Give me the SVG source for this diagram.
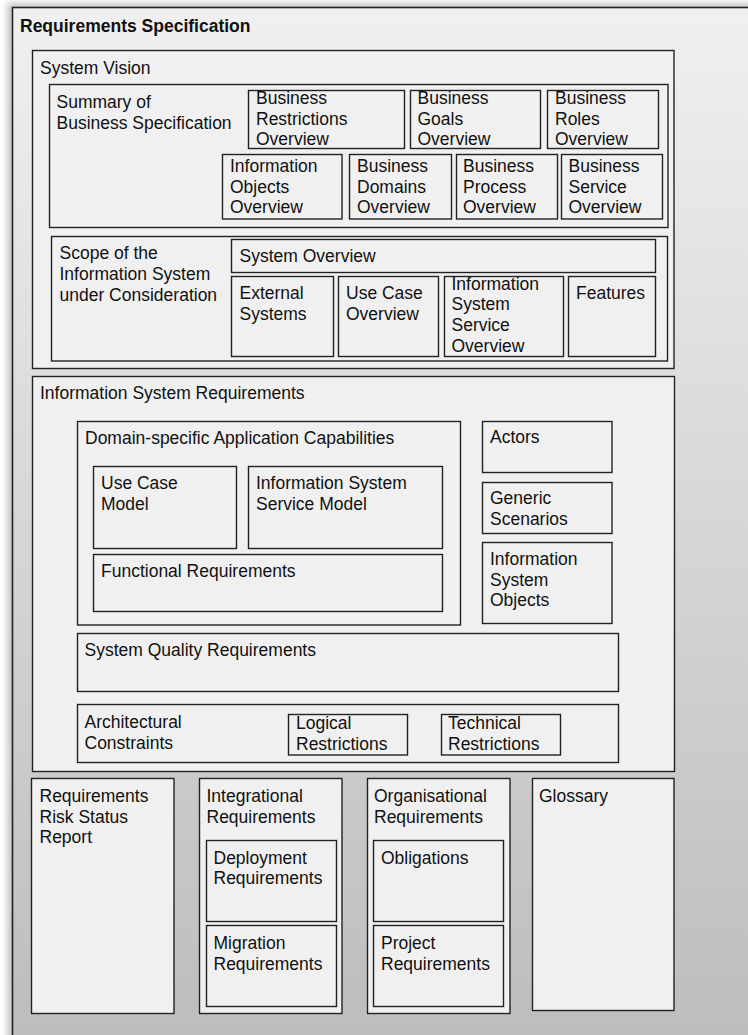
<svg xmlns="http://www.w3.org/2000/svg" width="748" height="1035" viewBox="0 0 748 1035">
  <defs>
    <linearGradient id="frameFill" x1="0" y1="0" x2="0" y2="1">
      <stop offset="0" stop-color="#f0f0f0"/>
      <stop offset="1" stop-color="#bcbcbc"/>
    </linearGradient>
    <filter id="soft" x="-5%" y="-5%" width="110%" height="110%">
      <feGaussianBlur stdDeviation="3"/>
    </filter>
    <style>
      .box { fill: #f0f0f0; stroke: #222; stroke-width: 1.4; }
      .frame { fill: url(#frameFill); stroke: #222; stroke-width: 1.6; }
      .t { font-family: "Liberation Sans", Arial, Helvetica, sans-serif; font-size: 17.5px; fill: #111; }
      .tb { font-weight: bold; }
    </style>
  </defs>

  <!-- outer document frame -->
  <g id="requirements-specification">
    <rect x="7" y="3" width="760" height="1050" fill="#000" opacity="0.22" filter="url(#soft)"/>
    <rect class="frame" x="12.5" y="7.5" width="760" height="1050"/>
    <text class="t tb" x="20" y="31.5">Requirements Specification</text>
  </g>

  <!-- System Vision -->
  <g id="system-vision">
    <rect class="box" x="32.5" y="50.5" width="641.5" height="318"/>
    <text class="t" x="40" y="74">System Vision</text>
  </g>

  <g id="summary-business-spec">
    <rect class="box" x="49.5" y="84.5" width="618.5" height="143"/>
    <text class="t" x="56.5"><tspan x="56.5" y="107.5">Summary of</tspan><tspan x="56.5" y="128.5">Business Specification</tspan></text>
  </g>
  <g id="business-restrictions-overview">
    <rect class="box" x="248.5" y="90.5" width="156" height="58"/>
    <text class="t"><tspan x="256" y="103.5">Business</tspan><tspan x="256" y="124.5">Restrictions</tspan><tspan x="256" y="145">Overview</tspan></text>
  </g>
  <g id="business-goals-overview">
    <rect class="box" x="410.5" y="90.5" width="130" height="58"/>
    <text class="t"><tspan x="417.5" y="103.5">Business</tspan><tspan x="417.5" y="124.5">Goals</tspan><tspan x="417.5" y="145">Overview</tspan></text>
  </g>
  <g id="business-roles-overview">
    <rect class="box" x="547.5" y="90.5" width="111" height="58"/>
    <text class="t"><tspan x="555" y="103.5">Business</tspan><tspan x="555" y="124.5">Roles</tspan><tspan x="555" y="145">Overview</tspan></text>
  </g>
  <g id="information-objects-overview">
    <rect class="box" x="222.5" y="154.5" width="119.5" height="64.5"/>
    <text class="t"><tspan x="230" y="171.5">Information</tspan><tspan x="230" y="192.5">Objects</tspan><tspan x="230" y="212.5">Overview</tspan></text>
  </g>
  <g id="business-domains-overview">
    <rect class="box" x="349.5" y="154.5" width="102" height="64.5"/>
    <text class="t"><tspan x="357" y="171.5">Business</tspan><tspan x="357" y="192.5">Domains</tspan><tspan x="357" y="212.5">Overview</tspan></text>
  </g>
  <g id="business-process-overview">
    <rect class="box" x="456.5" y="154.5" width="101" height="64.5"/>
    <text class="t"><tspan x="463" y="171.5">Business</tspan><tspan x="463" y="192.5">Process</tspan><tspan x="463" y="212.5">Overview</tspan></text>
  </g>
  <g id="business-service-overview">
    <rect class="box" x="561.5" y="154.5" width="101" height="64.5"/>
    <text class="t"><tspan x="568.5" y="171.5">Business</tspan><tspan x="568.5" y="192.5">Service</tspan><tspan x="568.5" y="212.5">Overview</tspan></text>
  </g>

  <g id="scope-information-system">
    <rect class="box" x="51.5" y="236.5" width="616" height="124.5"/>
    <text class="t"><tspan x="59.5" y="258.5">Scope of the</tspan><tspan x="59.5" y="280">Information System</tspan><tspan x="59.5" y="300.5">under Consideration</tspan></text>
  </g>
  <g id="system-overview">
    <rect class="box" x="231.5" y="239.5" width="424" height="33"/>
    <text class="t" x="239.5" y="261.5">System Overview</text>
  </g>
  <g id="external-systems">
    <rect class="box" x="231.5" y="276.5" width="102" height="80"/>
    <text class="t"><tspan x="239.5" y="298.5">External</tspan><tspan x="239.5" y="319.5">Systems</tspan></text>
  </g>
  <g id="use-case-overview">
    <rect class="box" x="338.5" y="276.5" width="100" height="80"/>
    <text class="t"><tspan x="346" y="298.5">Use Case</tspan><tspan x="346" y="319.5">Overview</tspan></text>
  </g>
  <g id="is-service-overview">
    <rect class="box" x="444.5" y="276.5" width="119" height="80"/>
    <text class="t"><tspan x="451.5" y="289.5">Information</tspan><tspan x="451.5" y="310">System</tspan><tspan x="451.5" y="331">Service</tspan><tspan x="451.5" y="351.5">Overview</tspan></text>
  </g>
  <g id="features">
    <rect class="box" x="568.5" y="276.5" width="87" height="80"/>
    <text class="t" x="576" y="298.5">Features</text>
  </g>

  <!-- Information System Requirements -->
  <g id="information-system-requirements">
    <rect class="box" x="32.5" y="376.5" width="642" height="395"/>
    <text class="t" x="40" y="398.5">Information System Requirements</text>
  </g>
  <g id="domain-specific-capabilities">
    <rect class="box" x="77.5" y="421.5" width="383" height="203.5"/>
    <text class="t" x="85" y="443.5">Domain-specific Application Capabilities</text>
  </g>
  <g id="use-case-model">
    <rect class="box" x="93.5" y="466.5" width="143" height="82"/>
    <text class="t"><tspan x="101" y="488.5">Use Case</tspan><tspan x="101" y="509.5">Model</tspan></text>
  </g>
  <g id="is-service-model">
    <rect class="box" x="248.5" y="466.5" width="194" height="82"/>
    <text class="t"><tspan x="256" y="488.5">Information System</tspan><tspan x="256" y="509.5">Service Model</tspan></text>
  </g>
  <g id="functional-requirements">
    <rect class="box" x="93.5" y="554.5" width="349" height="57"/>
    <text class="t" x="101" y="576.5">Functional Requirements</text>
  </g>
  <g id="actors">
    <rect class="box" x="482.5" y="421.5" width="129.5" height="51"/>
    <text class="t" x="490" y="443">Actors</text>
  </g>
  <g id="generic-scenarios">
    <rect class="box" x="482.5" y="482.5" width="129.5" height="51"/>
    <text class="t"><tspan x="490" y="503.5">Generic</tspan><tspan x="490" y="524.5">Scenarios</tspan></text>
  </g>
  <g id="is-objects">
    <rect class="box" x="482.5" y="542.5" width="129.5" height="81"/>
    <text class="t"><tspan x="490" y="565">Information</tspan><tspan x="490" y="585.5">System</tspan><tspan x="490" y="606">Objects</tspan></text>
  </g>
  <g id="system-quality-requirements">
    <rect class="box" x="77.5" y="633.5" width="541" height="58"/>
    <text class="t" x="84.5" y="656">System Quality Requirements</text>
  </g>
  <g id="architectural-constraints">
    <rect class="box" x="77.5" y="704.5" width="541" height="58"/>
    <text class="t"><tspan x="84.5" y="728">Architectural</tspan><tspan x="84.5" y="748.5">Constraints</tspan></text>
  </g>
  <g id="logical-restrictions">
    <rect class="box" x="288.5" y="714.5" width="119" height="40.5"/>
    <text class="t"><tspan x="296" y="729">Logical</tspan><tspan x="296" y="749.5">Restrictions</tspan></text>
  </g>
  <g id="technical-restrictions">
    <rect class="box" x="441.5" y="714.5" width="119" height="40.5"/>
    <text class="t"><tspan x="448" y="729">Technical</tspan><tspan x="448" y="749.5">Restrictions</tspan></text>
  </g>

  <!-- bottom row -->
  <g id="requirements-risk-status-report">
    <rect class="box" x="31.5" y="778.5" width="142.5" height="235"/>
    <text class="t"><tspan x="39.5" y="801.5">Requirements</tspan><tspan x="39.5" y="822.5">Risk Status</tspan><tspan x="39.5" y="843">Report</tspan></text>
  </g>
  <g id="integrational-requirements">
    <rect class="box" x="199.5" y="778.5" width="142.5" height="235"/>
    <text class="t"><tspan x="206.5" y="801.5">Integrational</tspan><tspan x="206.5" y="822.5">Requirements</tspan></text>
  </g>
  <g id="deployment-requirements">
    <rect class="box" x="206.5" y="840.5" width="130" height="81"/>
    <text class="t"><tspan x="213.5" y="863.5">Deployment</tspan><tspan x="213.5" y="884">Requirements</tspan></text>
  </g>
  <g id="migration-requirements">
    <rect class="box" x="206.5" y="925.5" width="130" height="81"/>
    <text class="t"><tspan x="213.5" y="949">Migration</tspan><tspan x="213.5" y="969.5">Requirements</tspan></text>
  </g>
  <g id="organisational-requirements">
    <rect class="box" x="367.5" y="778.5" width="142.5" height="235"/>
    <text class="t"><tspan x="374" y="801.5">Organisational</tspan><tspan x="374" y="822.5">Requirements</tspan></text>
  </g>
  <g id="obligations">
    <rect class="box" x="373.5" y="840.5" width="130" height="81"/>
    <text class="t" x="381" y="863.5">Obligations</text>
  </g>
  <g id="project-requirements">
    <rect class="box" x="373.5" y="925.5" width="130" height="81"/>
    <text class="t"><tspan x="381" y="949">Project</tspan><tspan x="381" y="969.5">Requirements</tspan></text>
  </g>
  <g id="glossary">
    <rect class="box" x="532.5" y="778.5" width="141.5" height="232"/>
    <text class="t" x="539" y="801.5">Glossary</text>
  </g>
</svg>
